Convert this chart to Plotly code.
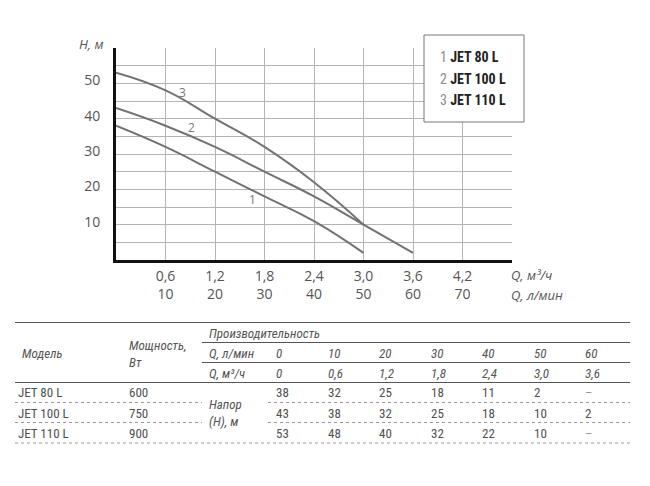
import plotly.graph_objects as go

# ---------------- data ----------------
Q_LMIN = [0, 10, 20, 30, 40, 50, 60]
Q_M3H = [0, 0.6, 1.2, 1.8, 2.4, 3.0, 3.6]
MODELS = ["JET 80 L", "JET 100 L", "JET 110 L"]
POWER_W = [600, 750, 900]
H_JET80 = [38, 32, 25, 18, 11, 2, None]
H_JET100 = [43, 38, 32, 25, 18, 10, 2]
H_JET110 = [53, 48, 40, 32, 22, 10, None]
CURVE_IDS = ["1", "2", "3"]

XTICK_M3H = [0.6, 1.2, 1.8, 2.4, 3.0, 3.6, 4.2]
XTICK_LMIN = [10, 20, 30, 40, 50, 60, 70]
YTICKS = [10, 20, 30, 40, 50]

HEADS = [H_JET80, H_JET100, H_JET110]

# ---------------- layout geometry (pixels) ----------------
W, H = 650, 486
L, R, T, B = 116, 512, 48, 260
PW, PH = R - L, B - T

def px(x):
    return (x - L) / PW

def py(y):
    return (B - y) / PH

FONT = "Open Sans"
NARROW = "Liberation Sans Narrow, Roboto Condensed, Roboto, sans-serif"
GRAY = "#727272"
TXT = "#505050"

def fmt(v):
    return (f"{v:.1f}").replace(".", ",")

fig = go.Figure()
for heads in HEADS:
    fig.add_trace(go.Scatter(
        x=Q_M3H, y=heads, mode="lines",
        line=dict(color=GRAY, width=2, shape="spline", smoothing=1.3),
        connectgaps=False, showlegend=False, hoverinfo="skip"))

# x ticks: two rows (m3/h and l/min); extra gridline at 4.8
xt_vals = XTICK_M3H + [4.8]
xt_text = [f"{fmt(a)}<br>{b}" for a, b in zip(XTICK_M3H, XTICK_LMIN)] + [""]
yt_vals = list(range(0, 65, 5))
yt_text = [str(v) if v in YTICKS else "" for v in yt_vals]

fig.update_xaxes(range=[0, 4.8], tickvals=xt_vals, ticktext=xt_text,
                 showgrid=True, gridcolor="#b4b4b4", gridwidth=1,
                 showline=True, linecolor="#111", linewidth=3, zeroline=False,
                 ticks="outside", ticklen=1, tickcolor="rgba(0,0,0,0)",
                 tickfont=dict(family=FONT, size=14, color="#555"))
fig.update_yaxes(range=[0, 60], tickvals=yt_vals, ticktext=yt_text,
                 showgrid=True, gridcolor="#b4b4b4", gridwidth=1,
                 showline=True, linecolor="#111", linewidth=3, zeroline=False,
                 ticks="outside", ticklen=10, tickcolor="rgba(0,0,0,0)",
                 ticklabelshift=-3,
                 tickfont=dict(family=FONT, size=14, color="#555"))

ann = []
shapes = []

def text(x, y, s, size=13, color=TXT, xanchor="left", italic=False, ref="px",
         family=NARROW):
    if italic:
        s = f"<i>{s}</i>"
    if ref == "px":
        ann.append(dict(x=px(x), y=py(y), xref="paper", yref="paper", text=s,
                        showarrow=False, xanchor=xanchor, yanchor="middle",
                        align="left",
                        font=dict(family=family, size=size, color=color)))
    else:
        ann.append(dict(x=x, y=y, xref="x", yref="y", text=s,
                        showarrow=False, xanchor=xanchor, yanchor="middle",
                        font=dict(family=family, size=size, color=color)))

# axis captions
text(105, 44, "H, м", size=13, color="#555", xanchor="right", italic=True, family=FONT)
text(509, 275, "Q, м³/ч", size=13, color="#555", italic=True, family=FONT)
text(509, 295, "Q, л/мин", size=13, color="#555", italic=True, family=FONT)

# curve labels
text(0.81, 47.5, CURVE_IDS[2], size=12, color="#777", xanchor="center", ref="data", family=FONT)
text(0.91, 37.5, CURVE_IDS[1], size=12, color="#777", xanchor="center", ref="data", family=FONT)
text(1.66, 17.0, CURVE_IDS[0], size=12, color="#777", xanchor="center", ref="data", family=FONT)

# legend box
shapes.append(dict(type="rect", xref="paper", yref="paper",
                   x0=px(424), x1=px(524), y0=py(122), y1=py(35),
                   line=dict(color="#777", width=1), fillcolor="white", layer="above"))
for i, (cid, m) in enumerate(zip(CURVE_IDS, MODELS)):
    text(438, 57 + 21.5 * i,
         f"<span style='color:#8a8a8a'>{cid}</span> <b>{m}</b>",
         size=14, color="#222")

# ---------------- table ----------------
def hline(y, x0, x1, dash="solid", color="#555", width=1):
    shapes.append(dict(type="line", xref="paper", yref="paper",
                       x0=px(x0), x1=px(x1), y0=py(y), y1=py(y),
                       line=dict(color=color, width=width, dash=dash)))

hline(322.5, 15, 630)
hline(342.5, 202, 630)
hline(362.5, 202, 630)
hline(382.5, 15, 630)
for y in (402.5, 422.5):
    hline(y, 15, 202, dash="dot", color="#999")
    hline(y, 268, 630, dash="dot", color="#999")
hline(443, 15, 630, dash="dot", color="#999")

HC = "#555"
text(20, 353, "Модель", color=HC, italic=True)
text(127, 354, "Мощность,<br>Вт", color=HC, italic=True)
text(207, 333, "Производительность", color=HC, italic=True)
text(207, 353, "Q, л/мин", color=HC, italic=True)
text(207, 373, "Q, м³/ч", color=HC, italic=True)
COL0, DCOL = 274, 51.5
for j, (ql, qm) in enumerate(zip(Q_LMIN, Q_M3H)):
    text(COL0 + DCOL * j, 353, str(ql), color=HC, italic=True)
    text(COL0 + DCOL * j, 373, "0" if qm == 0 else fmt(qm), color=HC, italic=True)

text(207, 412.5, "Напор<br>(Н), м", color=HC, italic=True)
for i, (m, p, heads) in enumerate(zip(MODELS, POWER_W, HEADS)):
    yy = 392.5 + 20.5 * i
    text(16, yy, m)
    text(127, yy, str(p))
    for j, v in enumerate(heads):
        text(COL0 + DCOL * j, yy, "–" if v is None else str(v),
             color="#999" if v is None else TXT)

fig.update_layout(width=W, height=H, autosize=False,
                  margin=dict(l=L, r=W - R, t=T, b=H - B),
                  plot_bgcolor="white", paper_bgcolor="white",
                  annotations=ann, shapes=shapes, showlegend=False)

fig.write_html("out.html", config={"displayModeBar": False},
               post_script="document.body.style.margin='0';document.body.style.padding='0';")
